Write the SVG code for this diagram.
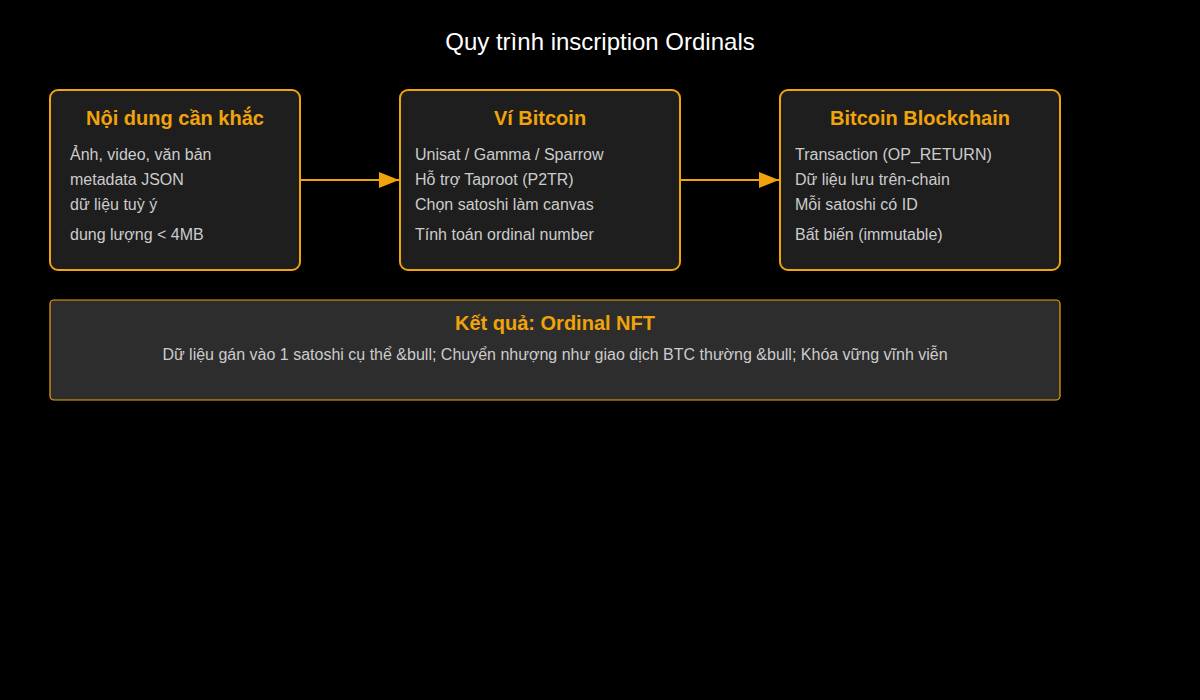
<svg xmlns="http://www.w3.org/2000/svg" width="1200" height="700" viewBox="0 0 1200 700">
<style>
.box{fill:#1e1e1e;stroke:#f0a30a;stroke-width:2}
.res{fill:#2d2d2d;stroke:#f0a30a;stroke-width:1.2}
.t{font-family:"Liberation Sans",Arial,sans-serif;font-weight:bold;font-size:20px;fill:#f0a30a;text-anchor:middle}
.b{font-family:"Liberation Sans",Arial,sans-serif;font-size:16px;fill:#cccccc}
.title{font-family:"Liberation Sans",Arial,sans-serif;font-size:24px;fill:#ffffff;text-anchor:middle}
.edge{stroke:#f0a30a;stroke-width:2;fill:none}
</style>
<defs>
<marker id="arr" markerWidth="10" markerHeight="8" refX="10" refY="4" orient="auto" markerUnits="strokeWidth">
<path d="M0,0 L10,4 L0,8 z" fill="#f0a30a"/>
</marker>
</defs>
<rect width="1200" height="700" fill="#000000"/>
<text class="title" x="600" y="50">Quy trình inscription Ordinals</text>
<g id="connectors">
<line class="edge" x1="300" y1="180" x2="399" y2="180" marker-end="url(#arr)"/>
<line class="edge" x1="680" y1="180" x2="779" y2="180" marker-end="url(#arr)"/>
</g>
<g id="node-content">
<rect class="box" x="50" y="90" width="250" height="180" rx="8"/>
<text class="t" x="175" y="125">Nội dung cần khắc</text>
<text class="b" x="70" y="160">Ảnh, video, văn bản</text>
<text class="b" x="70" y="185">metadata JSON</text>
<text class="b" x="70" y="210">dữ liệu tuỳ ý</text>
<text class="b" x="70" y="240">dung lượng &lt; 4MB</text>
</g>
<g id="node-wallet">
<rect class="box" x="400" y="90" width="280" height="180" rx="8"/>
<text class="t" x="540" y="125">Ví Bitcoin</text>
<text class="b" x="415" y="160">Unisat / Gamma / Sparrow</text>
<text class="b" x="415" y="185">Hỗ trợ Taproot (P2TR)</text>
<text class="b" x="415" y="210">Chọn satoshi làm canvas</text>
<text class="b" x="415" y="240">Tính toán ordinal number</text>
</g>
<g id="node-chain">
<rect class="box" x="780" y="90" width="280" height="180" rx="8"/>
<text class="t" x="920" y="125">Bitcoin Blockchain</text>
<text class="b" x="795" y="160">Transaction (OP_RETURN)</text>
<text class="b" x="795" y="185">Dữ liệu lưu trên-chain</text>
<text class="b" x="795" y="210">Mỗi satoshi có ID</text>
<text class="b" x="795" y="240">Bất biến (immutable)</text>
</g>
<g id="node-result">
<rect class="res" x="50" y="300" width="1010" height="100" rx="4"/>
<text class="t" x="555" y="330">Kết quả: Ordinal NFT</text>
<text class="b" x="555" y="360" text-anchor="middle">Dữ liệu gán vào 1 satoshi cụ thể &amp;bull; Chuyển nhượng như giao dịch BTC thường &amp;bull; Khóa vững vĩnh viễn</text>
</g>
</svg>
